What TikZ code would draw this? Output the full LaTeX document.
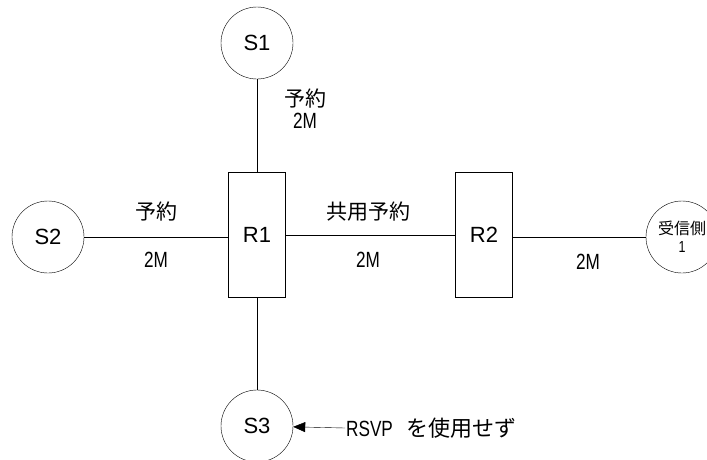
\documentclass[tikz,border=0pt]{standalone}
\usepackage{fontspec}
\setmainfont{Liberation Sans}
\newfontfamily\jp{Noto Sans CJK JP}
\newfontfamily\cond[FakeStretch=0.78]{Liberation Sans}
\usetikzlibrary{arrows.meta}
\tikzset{
  host/.style={draw, circle, minimum size=72pt, inner sep=0pt, font=\fontsize{22}{24}\selectfont},
  router/.style={draw, rectangle, minimum width=57pt, minimum height=125pt, inner sep=0pt, font=\fontsize{22}{24}\selectfont},
  lbl/.style={font=\jp\fontsize{21}{22}\selectfont, align=center, inner sep=1pt},
}
\newcommand{\rate}[1]{{\cond\fontsize{22}{22}\selectfont #1}}
\begin{document}
\begin{tikzpicture}[x=1pt,y=-1pt]
\useasboundingbox (0,0) rectangle (707,459);
\clip (0,0) rectangle (707,459);
\node[host] (s1) at (257,43) {S1};
\node[host] (s2) at (48,237) {S2};
\node[host] (s3) at (257,426) {S3};
\node[router] (r1) at (257,235) {R1};
\node[router] (r2) at (484,235) {R2};
\node[host, font=\jp\fontsize{16}{18}\selectfont, align=center] (recv) at (682,237) {受信側\\{\cond 1}};

\node[lbl] (l1) at (305,109) {予約\\\rate{2M}};
\node[lbl] (l2) at (156,212) {予約};
\node[lbl] (l3) at (156,260) {\rate{2M}};
\node[lbl] (l4) at (368,212) {共用予約};
\node[lbl] (l5) at (368,260) {\rate{2M}};
\node[lbl] (l6) at (588,262) {\rate{2M}};
\node[lbl, anchor=west, font=\jp\fontsize{22}{22}\selectfont] (note) at (345,428) {\rate{RSVP}\hspace{9pt} を使用せず};

\draw (s1)--(r1);
\draw (s2)--(s2 -| r1.west);
\draw (r1.east |- r2)--(r2);
\draw (r2.east |- recv)--(recv);
\draw (r1)--(s3);
\draw[-{Triangle[length=12pt,width=10pt]}] (note.west)--(s3);
\end{tikzpicture}
\end{document}
